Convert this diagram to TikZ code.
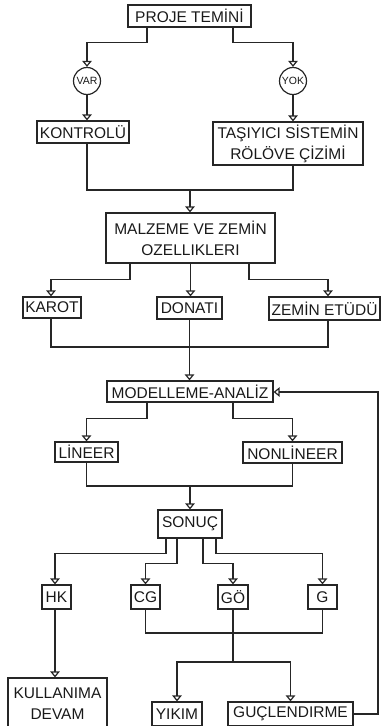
\documentclass[tikz,border=0pt]{standalone}
\usepackage{fontspec}
\setmainfont{Liberation Sans}
\usetikzlibrary{arrows.meta}

\tikzset{
  box/.style={draw, rectangle, inner sep=0pt, align=center,
    font=\fontsize{15.5}{21}\selectfont, text=black!90},
  choice/.style={draw, circle, inner sep=0pt, minimum size=27pt,
    font=\fontsize{10.5}{12}\selectfont, text=black!90},
  link/.style={draw=black!85, line width=1.2pt},
  arr/.style={link, -{Triangle[open, width=9.5pt, length=6pt]}}
}

\begin{document}
\begin{tikzpicture}[x=1pt, y=-1pt, line width=1.2pt, draw=black!85]
  \useasboundingbox (0,0) rectangle (381,726);

  % boxes
  \node[box, minimum width=123pt, minimum height=22pt] (proje) at (189.5,16) {PROJE TEMİNİ};
  \node[choice] (var) at (87,81) {VAR};
  \node[choice] (yok) at (293,81) {YOK};
  \node[box, minimum width=92pt, minimum height=22pt] (kontrol) at (83,132) {KONTROLÜ};
  \node[box, minimum width=150pt, minimum height=43pt] (tasiyici) at (288,143.5) {TAŞIYICI SİSTEMİN\\RÖLÖVE ÇİZİMİ};
  \node[box, minimum width=169pt, minimum height=50pt] (malzeme) at (190.5,238) {MALZEME VE ZEMİN\\OZELLIKLERI};
  \node[box, minimum width=58pt, minimum height=21pt] (karot) at (52,307.5) {KAROT};
  \node[box, minimum width=65pt, minimum height=22pt] (donati) at (189.5,308) {DONATI};
  \node[box, minimum width=111pt, minimum height=23pt] (zemin) at (324.5,308.5) {ZEMİN ETÜDÜ};
  \node[box, minimum width=166pt, minimum height=21pt] (model) at (190,391.5) {MODELLEME-ANALİZ};
  \node[box, minimum width=63pt, minimum height=20pt] (lineer) at (86.5,452) {LİNEER};
  \node[box, minimum width=99pt, minimum height=21pt] (nonlineer) at (292.5,452.5) {NONLİNEER};
  \node[box, minimum width=64pt, minimum height=28pt] (sonuc) at (190,524) {SONUÇ};
  \node[box, minimum width=29pt, minimum height=24pt] (hk) at (56.5,597) {HK};
  \node[box, minimum width=29pt, minimum height=24pt] (cg) at (145.5,597) {CG};
  \node[box, minimum width=30pt, minimum height=24pt] (go) at (233,597) {GÖ};
  \node[box, minimum width=29pt, minimum height=24pt] (g) at (322.5,597) {G};
  \node[box, minimum width=99pt, minimum height=52pt] (kullanima) at (57.5,704) {KULLANIMA\\DEVAM};
  \node[box, minimum width=50pt, minimum height=24pt] (yikim) at (177,714) {YIKIM};
  \node[box, minimum width=125pt, minimum height=24pt] (guc) at (290.5,714) {GUÇLENDIRME};

  % junction points
  \coordinate (j1) at (190,190);
  \coordinate (j2) at (190,347);
  \coordinate (j3) at (190,486);
  \coordinate (j4) at (233,633);
  \coordinate (j5) at (233,662);
  \coordinate (fb) at (378,392);

  % project -> var / yok
  \draw[arr] ([xshift=-42.5pt]proje.south) -- ++(0,15) -| (var.north);
  \draw[arr] ([xshift=43.5pt]proje.south) -- ++(0,15) -| (yok.north);
  \draw[arr] (var.south) -- (var.south |- kontrol.north);
  \draw[arr] (yok.south) -- (yok.south |- tasiyici.north);

  % merge into material properties
  \draw[link] (var |- kontrol.south) -- (var |- j1) -- (yok |- j1) -- (yok |- tasiyici.south);
  \draw[arr] (j1) -- (j1 |- malzeme.north);

  % material properties -> tests
  \draw[arr] ([xshift=-60.5pt]malzeme.south) -- ++(0,16) -| ([xshift=-1pt]karot.north);
  \draw[arr] (malzeme.south) -- (malzeme.south |- donati.north);
  \draw[arr] ([xshift=58.5pt]malzeme.south) -- ++(0,16) -| ([xshift=3.5pt]zemin.north);

  % tests -> modelling
  \draw[link] ([xshift=-1pt]karot.south) |- ([xshift=3.5pt]zemin.south |- j2) -- ([xshift=3.5pt]zemin.south);
  \draw[arr] (donati.south) -- (donati.south |- model.north);

  % modelling -> analysis types
  \draw[arr] ([xshift=-43pt]model.south) -- ++(0,16) -| (lineer.north);
  \draw[arr] ([xshift=43pt]model.south) -- ++(0,16) -| (nonlineer.north);
  \draw[link] (lineer.south) |- (nonlineer.south |- j3) -- (nonlineer.south);
  \draw[arr] (j3) -- (j3 |- sonuc.north);

  % result -> classes
  \draw[arr] ([xshift=-24pt]sonuc.south) -- ++(0,15) -| ([xshift=-1.5pt]hk.north);
  \draw[arr] ([xshift=-13pt]sonuc.south) -- ++(0,25) -| (cg.north);
  \draw[arr] ([xshift=13pt]sonuc.south) -- ++(0,25) -| (go.north);
  \draw[arr] ([xshift=26pt]sonuc.south) -- ++(0,15) -| (g.north);

  % classes -> decisions
  \draw[arr] ([xshift=-1.5pt]hk.south) -- ([xshift=-1.5pt]hk.south |- kullanima.north);
  \draw[link] (cg.south) |- (g.south |- j4) -- (g.south);
  \draw[link] (go.south) -- (j5);
  \draw[arr] (j5) -| (yikim.north);
  \draw[arr] (j5) -| (guc.north);

  % strengthening feeds back into modelling
  \draw[arr] (guc.east) -| (fb) -- (fb -| model.east);
\end{tikzpicture}
\end{document}
